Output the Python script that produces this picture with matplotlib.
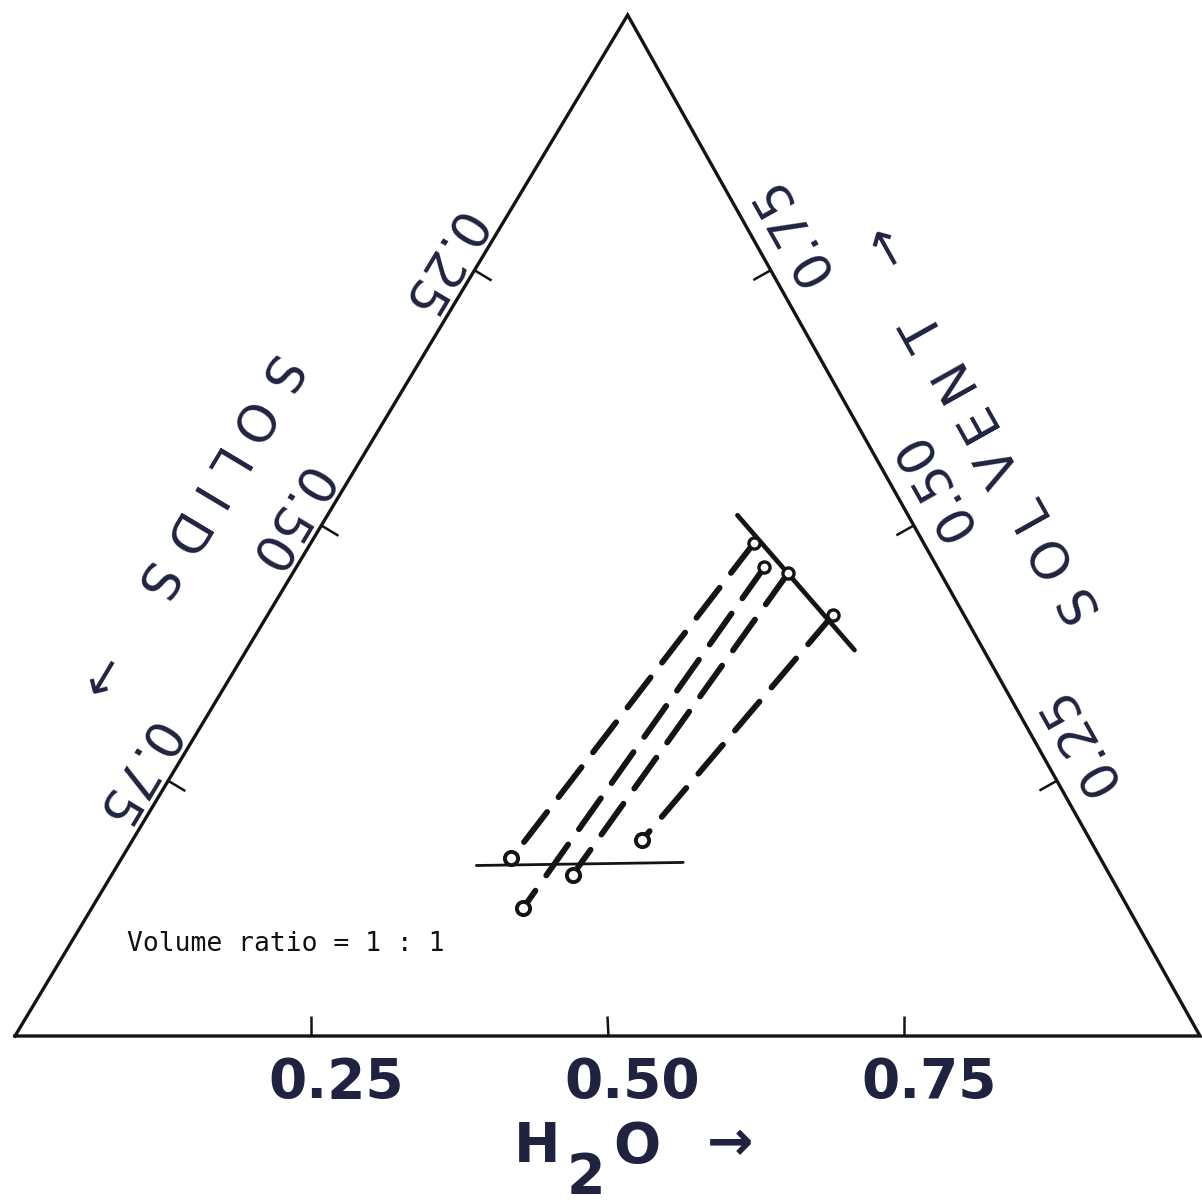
import numpy as np
import matplotlib
matplotlib.use("Agg")
import matplotlib.pyplot as plt
from matplotlib.textpath import TextPath
from matplotlib.font_manager import FontProperties

# 三角図の頂点のずれ（頂点のx位置、底辺を0〜1とする）
APEX_X = 0.517

# 目盛り
tick_values = [0.25, 0.50, 0.75]
tick_labels = ["0.25", "0.50", "0.75"]

# 溶媒相（上側）の組成: H2O, SOLVENT
upper_h2o = [0.374, 0.395, 0.418, 0.477]
upper_solvent = [0.483, 0.459, 0.453, 0.412]
# 水相（下側）の組成: タイラインの相手の順
lower_h2o = [0.329, 0.364, 0.389, 0.430]
lower_solvent = [0.174, 0.125, 0.158, 0.192]

# 相境界線
upper_curve_h2o = [0.346, 0.513]
upper_curve_solvent = [0.510, 0.378]
lower_curve_h2o = [0.303, 0.476]
lower_curve_solvent = [0.167, 0.170]

TEXT_COLOR = "#1f2340"
LINE_COLOR = "#141414"
DPI = 100


def tern(h2o, solvent):
    h = np.asarray(h2o, dtype=float)
    s = np.asarray(solvent, dtype=float)
    return h + APEX_X * s, s


def axis_point(name, v):
    if name == "h2o":
        return tern(v, 0.0)
    if name == "solvent":
        return tern(1.0 - v, v)
    return tern(0.0, 1.0 - v)  # solids


fig = plt.figure(figsize=(12.02, 12.03), dpi=DPI)
ax = fig.add_axes([15 / 1202, (1203 - 1036) / 1203, 1185 / 1202, 1021 / 1203])
ax.set_xlim(0, 1)
ax.set_ylim(0, 1)
ax.axis("off")

# 外枠
vx, vy = tern([0, 1, 0, 0], [0, 0, 1, 0])
ax.plot(vx, vy, color=LINE_COLOR, lw=2.4, solid_joinstyle="miter", clip_on=False)

to_disp = ax.transData.transform
to_data = ax.transData.inverted().transform


def axis_dirs(name):
    p0 = to_disp(np.array(axis_point(name, 0.0)))
    p1 = to_disp(np.array(axis_point(name, 1.0)))
    d = (p1 - p0) / np.hypot(*(p1 - p0))
    n = np.array([d[1], -d[0]])  # 外向き法線
    ang = np.degrees(np.arctan2(d[1], d[0]))
    return d, n, ang


# 各辺の目盛りと数値
label_shift = {"h2o": (47, 25), "solvent": (40, 25), "solids": (34, 12)}
for name in ["h2o", "solvent", "solids"]:
    d, n, ang = axis_dirs(name)
    bold = name == "h2o"
    for v, lab in zip(tick_values, tick_labels):
        p = np.array(axis_point(name, v))
        P = to_disp(p)
        q = to_data(P - n * 20)
        ax.plot([p[0], q[0]], [p[1], q[1]], color=LINE_COLOR, lw=1.8,
                solid_capstyle="butt", clip_on=False)
        N, A = label_shift[name]
        off = n * N + d * A
        ax.annotate(lab, xy=p, xytext=off, textcoords="offset pixels",
                    rotation=0 if name == "h2o" else ang, rotation_mode="anchor",
                    ha="center", va="center", color=TEXT_COLOR,
                    fontsize=39.5 if bold else 37,
                    fontweight="bold" if bold else "normal",
                    family="DejaVu Sans", annotation_clip=False)


def spaced_label(name, v, text, normal, length, size):
    """字間を広げた軸名（全長 length ピクセル）"""
    d, n, ang = axis_dirs(name)
    p = np.array(axis_point(name, v))
    prop = FontProperties(family="DejaVu Sans", size=size)
    widths = []
    for ch in text:
        ext = TextPath((0, 0), ch, size=size, prop=prop).get_extents()
        widths.append(ext.width * DPI / 72)
    widths = np.array(widths)
    gap = (length - widths.sum()) / max(len(text) - 1, 1)
    pos = np.cumsum(widths + gap) - widths / 2 - gap
    pos -= length / 2
    for ch, s in zip(text, pos):
        off = n * normal + d * s
        ax.annotate(ch, xy=p, xytext=off, textcoords="offset pixels",
                    rotation=ang, rotation_mode="anchor", ha="center", va="center",
                    color=TEXT_COLOR, fontsize=size, family="DejaVu Sans",
                    annotation_clip=False)


# 軸名
spaced_label("solids", 0.512, "SOLIDS", 118, 268, 37)
spaced_label("solids", 0.690, "→", 115, 0, 36)
spaced_label("solvent", 0.509, "SOLVENT", 106, 340, 37)
spaced_label("solvent", 0.706, "→", 113, 0, 36)

p_mid = np.array(axis_point("h2o", 0.5))
for ch, dx, dy in [("H", -70, -111), ("2", -22, -142), ("O", 29, -111), ("→", 123, -109)]:
    ax.annotate(ch, xy=p_mid, xytext=(dx, dy), textcoords="offset pixels",
                ha="center", va="center", color=TEXT_COLOR, fontsize=40,
                fontweight="bold", family="DejaVu Sans", annotation_clip=False)

# 相境界線
ux, uy = tern(upper_curve_h2o, upper_curve_solvent)
ax.plot(ux, uy, color=LINE_COLOR, lw=3.4, solid_capstyle="round")
lx, ly = tern(lower_curve_h2o, lower_curve_solvent)
ax.plot(lx, ly, color=LINE_COLOR, lw=2.0, solid_capstyle="round")

# タイライン（破線）
px_u, py_u = tern(upper_h2o, upper_solvent)
px_l, py_l = tern(lower_h2o, lower_solvent)
for x0, y0, x1, y1 in zip(px_u, py_u, px_l, py_l):
    ax.plot([x0, x1], [y0, y1], color=LINE_COLOR, lw=4.2,
            dashes=(6.5, 3.2), dash_capstyle="round")

# 測定点
ax.plot(px_u, py_u, "o", ms=8, mfc="white", mec=LINE_COLOR, mew=2.4, zorder=5)
ax.plot(px_l, py_l, "o", ms=9.5, mfc="white", mec=LINE_COLOR, mew=2.8, zorder=5)

ax.text(0.0945, 0.083, "Volume ratio = 1 : 1", family="DejaVu Sans Mono",
        fontsize=19, color="#111111", ha="left", va="baseline")

fig.savefig("out.png", dpi=DPI, facecolor="white")
